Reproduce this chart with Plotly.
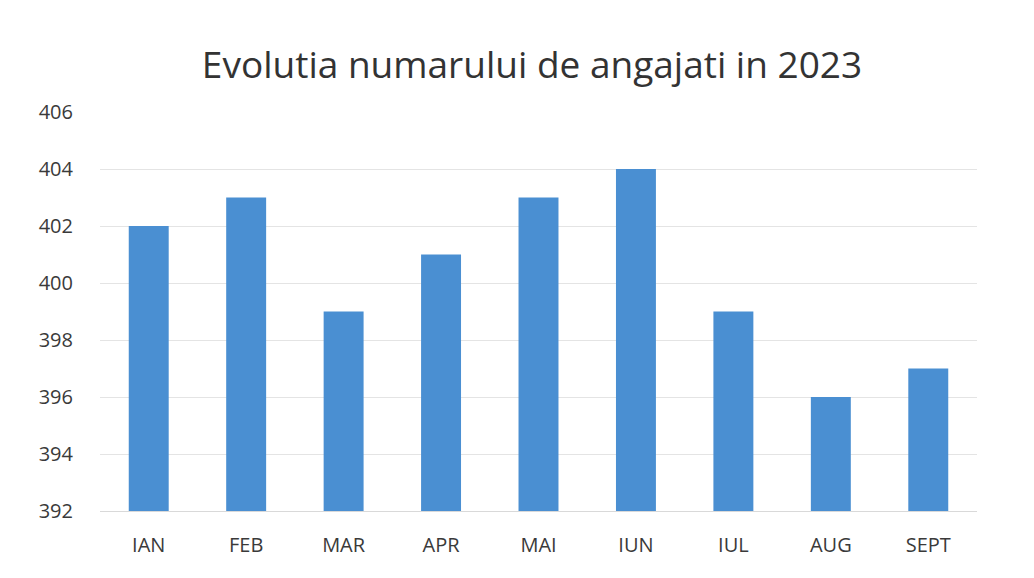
import plotly.graph_objects as go

months = ["IAN", "FEB", "MAR", "APR", "MAI", "IUN", "IUL", "AUG", "SEPT"]
employees = [402, 403, 399, 401, 403, 404, 399, 396, 397]
y_ticks = [392, 394, 396, 398, 400, 402, 404, 406]
axis_base = 392

W, H = 1018, 562

fig = go.Figure()
fig.add_trace(go.Bar(
    x=months,
    y=[v - axis_base for v in employees],
    base=axis_base,
    marker=dict(color="#4A8FD2", line=dict(width=0)),
    hovertext=[str(v) for v in employees],
))

fig.update_layout(
    width=W,
    height=H,
    paper_bgcolor="white",
    plot_bgcolor="white",
    margin=dict(l=92, r=49, t=104, b=45),
    bargap=0.59,
    showlegend=False,
    title=dict(
        text="Evolutia numarului de angajati in 2023",
        x=524 / W,
        xanchor="center",
        y=1 - 57 / H,
        yanchor="middle",
        yref="container",
        font=dict(family="Open Sans, sans-serif", size=37, color="#333333"),
    ),
    font=dict(family="Open Sans, sans-serif", color="#3A3A3A"),
)
fig.update_yaxes(
    range=[392, 406],
    tickvals=y_ticks,
    ticktext=[str(t) for t in y_ticks],
    showgrid=True,
    gridcolor="#E4E4E4",
    gridwidth=1,
    zeroline=False,
    showline=False,
    tickfont=dict(size=20, color="#3A3A3A"),
    ticks="outside",
    ticklen=22,
    tickcolor="rgba(0,0,0,0)",
)
fig.update_xaxes(
    showgrid=False,
    showline=True,
    linecolor="#D9D9D9",
    linewidth=1,
    tickfont=dict(size=20, color="#3A3A3A"),
    ticks="outside",
    ticklen=16,
    tickcolor="rgba(0,0,0,0)",
)
fig.write_html("out.html")
